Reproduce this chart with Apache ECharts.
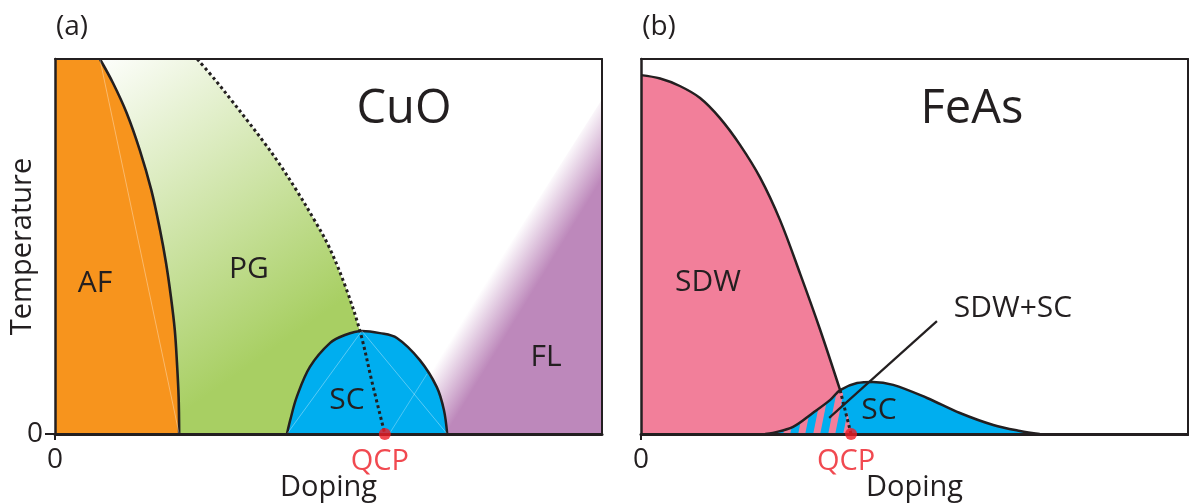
<!DOCTYPE html>
<html>
<head>
<meta charset="utf-8">
<script src="https://cdn.jsdelivr.net/npm/echarts@6/dist/echarts.min.js"></script>
<style>
  html, body { margin: 0; padding: 0; background: #ffffff; }
  #chart { width: 1189px; height: 504px; }
</style>
</head>
<body>
<div id="chart"></div>
<script>
// Schematic phase diagrams: doping (x, 0..1) against temperature (y, 0..1).

// ---- (a) CuO ----
const afBoundary = [[0.082, 1.0], [0.106, 0.936], [0.131, 0.856], [0.155, 0.757], [0.176, 0.651], [0.192, 0.544],
  [0.203, 0.456], [0.212, 0.365], [0.219, 0.277], [0.223, 0.189], [0.226, 0.099], [0.227, 0]];
const pgBoundary = [[0.260, 1.0], [0.293, 0.944], [0.322, 0.891], [0.351, 0.837], [0.383, 0.776], [0.409, 0.723],
  [0.441, 0.651], [0.474, 0.571], [0.501, 0.499], [0.532, 0.389], [0.558, 0.272], [0.580, 0.136], [0.603, 0]];
const scDomeCuO = [[0.424, 0], [0.430, 0.037], [0.442, 0.099], [0.466, 0.179], [0.503, 0.243], [0.530, 0.264],
  [0.561, 0.275], [0.594, 0.269], [0.625, 0.256], [0.667, 0.197], [0.698, 0.125], [0.711, 0.064], [0.717, 0]];
const flBoundary = [[0.611, 0], [1.0, 0.893]];
const qcpCuO = [0.603, 0];

// ---- (b) FeAs ----
const sdwBoundary = [[0, 0.957], [0.035, 0.948], [0.071, 0.928], [0.108, 0.896], [0.144, 0.843], [0.181, 0.771],
  [0.218, 0.683], [0.254, 0.571], [0.291, 0.427], [0.327, 0.280], [0.364, 0.117]];
const scDomeFeAs = [[0.227, 0], [0.241, 0.003], [0.278, 0.019], [0.314, 0.056], [0.346, 0.091], [0.364, 0.117],
  [0.395, 0.136], [0.424, 0.139], [0.461, 0.131], [0.523, 0.096], [0.583, 0.056], [0.644, 0.024], [0.693, 0.008], [0.729, 0]];
const qcpFeAs = [0.384, 0];
const sdwScPointer = [[0.541, 0.301], [0.344, 0.043]];

// tick labels
const zeroTick = [0];

// ---- styles ----
const INK = '#231f20';
const ORANGE = '#f7941d';
const GREEN = 'rgba(168,207,99,1)';
const BLUE = '#00aeef';
const PURPLE = 'rgba(189,136,187,1)';
const PINK = '#f27f9a';
const RED = '#ed1c24';
const FONT = '"Open Sans", "Noto Sans", sans-serif';

// pink / blue slanted stripes for the coexistence region
function stripePattern(c1, c2) {
  const w = 15, h = 75;
  const cv = document.createElement('canvas');
  cv.width = w; cv.height = h;
  const ctx = cv.getContext('2d');
  ctx.fillStyle = c2; ctx.fillRect(0, 0, w, h);
  ctx.fillStyle = c1;
  for (let k = 0; k <= 2; k++) {
    const x0 = k * w;
    ctx.beginPath();
    ctx.moveTo(x0, 0); ctx.lineTo(x0 + 7, 0);
    ctx.lineTo(x0 + 7 - w, h); ctx.lineTo(x0 - w, h);
    ctx.closePath(); ctx.fill();
  }
  return cv;
}

const junctionX = sdwBoundary[sdwBoundary.length - 1][0];
const coexistRegion = scDomeFeAs.filter(p => p[0] <= junctionX).concat([qcpFeAs]);
const afRegion = [[0, 1]].concat(afBoundary);
const pgRegion = [[0, 1]].concat(pgBoundary);

// faint seams inside the filled regions
const scPeak = scDomeCuO.reduce((a, b) => (b[1] > a[1] ? b : a));
const seamsCuO = [
  [afBoundary[0], afBoundary[afBoundary.length - 1]],
  [scPeak, scDomeCuO[0]],
  [scPeak, scDomeCuO[scDomeCuO.length - 1]]
];

function frameAxes(grid, withName) {
  const base = { gridIndex: grid, type: 'value', min: 0, max: 1, z: 10, splitLine: { show: false } };
  return {
    x: [
      Object.assign({}, base, {
        position: 'bottom',
        axisLine: { onZero: false, lineStyle: { color: INK, width: 3 } },
        axisTick: { show: true, customValues: zeroTick, length: 6, lineStyle: { color: INK, width: 2 } },
        axisLabel: { show: true, customValues: zeroTick, formatter: v => String(v), margin: 12,
          color: INK, fontSize: 28, fontFamily: FONT },
        name: 'Doping', nameLocation: 'middle', nameGap: 39, nameMoveOverlap: false,
        nameTextStyle: { color: INK, fontSize: 29, fontFamily: FONT }
      }),
      Object.assign({}, base, {
        position: 'top',
        axisLine: { onZero: false, lineStyle: { color: INK, width: 2 } },
        axisTick: { show: false }, axisLabel: { show: false }
      })
    ],
    y: [
      Object.assign({}, base, {
        position: 'left',
        axisLine: { onZero: false, lineStyle: { color: INK, width: 2.5 } },
        axisTick: { show: withName, customValues: zeroTick, length: 10, lineStyle: { color: INK, width: 2 } },
        axisLabel: { show: withName, customValues: zeroTick, formatter: v => String(v), margin: 12,
          color: INK, fontSize: 28, fontFamily: FONT },
        name: withName ? 'Temperature' : '', nameLocation: 'middle', nameGap: 18, nameRotate: 90,
        nameMoveOverlap: false,
        nameTextStyle: { color: INK, fontSize: 29, fontFamily: FONT }
      }),
      Object.assign({}, base, {
        position: 'right',
        axisLine: { onZero: false, lineStyle: { color: INK, width: 2 } },
        axisTick: { show: false }, axisLabel: { show: false }
      })
    ]
  };
}

const axA = frameAxes(0, true);
const axB = frameAxes(1, false);

function area(xi, yi, data, fill, z, line, smooth) {
  return {
    type: 'line', xAxisIndex: xi, yAxisIndex: yi, data: data, z: z,
    smooth: smooth === undefined ? 0.35 : smooth, showSymbol: false, symbol: 'none', silent: true, animation: false,
    lineStyle: line ? { color: INK, width: 2.5 } : { width: 0, opacity: 0 },
    areaStyle: { color: fill, opacity: 1 }
  };
}
function curve(xi, yi, data, z, style, smooth) {
  return {
    type: 'line', xAxisIndex: xi, yAxisIndex: yi, data: data, z: z,
    smooth: smooth === undefined ? 0.35 : smooth, showSymbol: false, symbol: 'none', silent: true, animation: false,
    lineStyle: style
  };
}
function qcp(xi, yi, point) {
  return {
    type: 'scatter', xAxisIndex: xi, yAxisIndex: yi, data: [point], z: 20, silent: true, animation: false,
    symbolSize: 12, itemStyle: { color: RED },
    label: { show: true, formatter: 'QCP', position: 'bottom', distance: 7, offset: [-5, 0],
      color: RED, fontSize: 29, fontFamily: FONT }
  };
}
function text(str, x, y, size) {
  return { type: 'text', x: x, y: y, z: 50, silent: true,
    style: { text: str, fill: INK, fontSize: size, fontFamily: FONT, align: 'center', verticalAlign: 'middle' } };
}

const dotted = { color: INK, width: 3, type: [3, 3] };

const option = {
  animation: false,
  backgroundColor: '#ffffff',
  grid: [
    { left: 55, top: 59, width: 547, height: 375, outerBoundsMode: 'none', containLabel: false },
    { left: 641, top: 59, width: 547, height: 375, outerBoundsMode: 'none', containLabel: false }
  ],
  xAxis: axA.x.concat(axB.x),
  yAxis: axA.y.concat(axB.y),
  series: [
    // (a) CuO
    area(0, 0, pgRegion, {
      type: 'linear', x: 0.1, y: 0, x2: 0.7, y2: 0.75,
      colorStops: [{ offset: 0, color: 'rgba(168,207,99,0)' }, { offset: 1, color: GREEN }]
    }, 1, false, false),
    area(0, 0, flBoundary, {
      type: 'linear', x: 0.5, y: 0.5, x2: 0.68, y2: 0.57,
      colorStops: [{ offset: 0, color: 'rgba(189,136,187,0)' }, { offset: 1, color: PURPLE }]
    }, 1, false, false),
    area(0, 0, afRegion, ORANGE, 2, false, false),
    curve(0, 0, afBoundary, 3, { color: INK, width: 2.6 }),
    area(0, 0, scDomeCuO, BLUE, 3, true),
    ...seamsCuO.map(s => curve(0, 0, s, 4, { color: 'rgba(255,255,255,0.35)', width: 1 }, false)),
    curve(0, 0, [flBoundary[0], [0.680, 0.16]], 4, { color: 'rgba(255,255,255,0.3)', width: 1 }, false),
    curve(0, 0, pgBoundary, 6, dotted),
    qcp(0, 0, qcpCuO),

    // (b) FeAs
    area(2, 2, sdwBoundary.concat([qcpFeAs]), PINK, 1, false),
    area(2, 2, scDomeFeAs, BLUE, 2, false),
    area(2, 2, coexistRegion, { image: stripePattern(PINK, BLUE), repeat: 'repeat' }, 3, false),
    curve(2, 2, scDomeFeAs, 5, { color: INK, width: 2.5 }),
    curve(2, 2, sdwBoundary, 5, { color: INK, width: 2.5 }),
    curve(2, 2, [sdwBoundary[sdwBoundary.length - 1], qcpFeAs], 6, dotted, false),
    curve(2, 2, sdwScPointer, 6, { color: INK, width: 2.2 }, false),
    qcp(2, 2, qcpFeAs)
  ],
  graphic: [
    text('(a)', 72, 27, 28),
    text('(b)', 659, 27, 28),
    text('CuO', 404, 110, 47),
    text('FeAs', 972, 110, 47),
    text('AF', 95, 283, 30),
    text('PG', 249, 269, 30),
    text('SC', 347, 400, 30),
    text('FL', 546, 357, 30),
    text('SDW', 708, 282, 30),
    text('SDW+SC', 1013, 308, 30),
    text('SC', 879, 410, 30)
  ]
};

const chart = echarts.init(document.getElementById('chart'), null, { renderer: 'canvas' });
chart.setOption(option);
</script>
</body>
</html>
